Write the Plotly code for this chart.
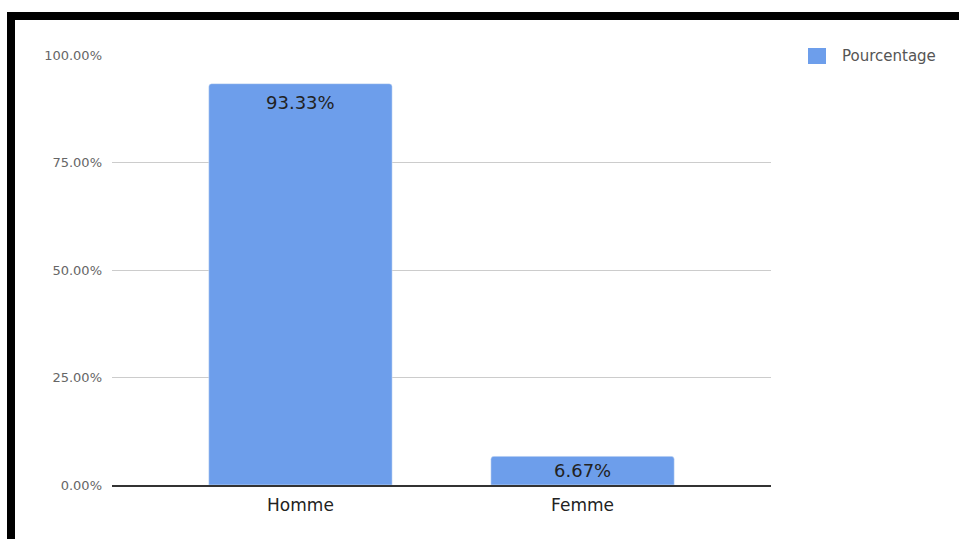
import plotly.graph_objects as go

# Répartition par sexe
categories = ["Homme", "Femme"]
pourcentages = [93.33, 6.67]
tick_values = [0, 25, 50, 75, 100]
tick_labels = ["0.00%", "25.00%", "50.00%", "75.00%", "100.00%"]
serie = "Pourcentage"

W, H = 959, 539
L, R, T, B = 112, 771, 55, 485  # plot area in pixels
Y_MAX = 100
BAR_COLOR = "#6d9eeb"
FONT = "DejaVu Sans"


def px(x):
    return (x - L) / (R - L)


def py(y):
    return (B - y) / (B - T)


fig = go.Figure()
fig.add_trace(go.Bar(
    x=categories,
    y=pourcentages,
    name=serie,
    marker=dict(color=BAR_COLOR, cornerradius=3),
    width=0.65,
    showlegend=False,
))

# value labels inside the bars: near the top, or centred for short bars
px_per_unit = (B - T) / Y_MAX
annotations = []
for cat, val in zip(categories, pourcentages):
    shift = min(19, val * px_per_unit / 2)
    annotations.append(dict(
        x=cat, y=val, xref="x", yref="y",
        text=f"{val:.2f}%", showarrow=False,
        yanchor="middle", yshift=-shift,
        font=dict(family=FONT, size=18, color="#222222"),
    ))

# legend entry
annotations.append(dict(
    x=px(840), y=py(56), xref="paper", yref="paper",
    text=serie, showarrow=False, xanchor="left", yanchor="middle",
    font=dict(family=FONT, size=15, color="#555555"),
))

fig.update_layout(
    width=W, height=H,
    margin=dict(l=L, r=W - R, t=T, b=H - B, pad=0),
    paper_bgcolor="white",
    plot_bgcolor="white",
    showlegend=False,
    annotations=annotations,
    xaxis=dict(
        range=[-0.668, 1.668],
        showgrid=False,
        showline=True, linecolor="#333333", linewidth=2,
        tickfont=dict(family=FONT, size=17, color="#222222"),
        ticks="",
        ticklabelstandoff=4,
        fixedrange=True,
    ),
    yaxis=dict(
        range=[0, Y_MAX],
        tickvals=tick_values,
        ticktext=tick_labels,
        tickfont=dict(family=FONT, size=13, color="#666666"),
        showgrid=True, gridcolor="#cccccc", gridwidth=1,
        zeroline=False,
        showline=False,
        ticks="",
        ticklabelstandoff=9,
    ),
    shapes=[
        # legend swatch
        dict(type="rect", xref="paper", yref="paper",
             x0=px(808), x1=px(826), y0=py(64), y1=py(48),
             fillcolor=BAR_COLOR, line=dict(width=0)),
        # black frame (top and left edges)
        dict(type="rect", xref="paper", yref="paper",
             x0=px(7), x1=px(959), y0=py(20), y1=py(12),
             fillcolor="black", line=dict(width=0), layer="above"),
        dict(type="rect", xref="paper", yref="paper",
             x0=px(7), x1=px(15), y0=py(539), y1=py(12),
             fillcolor="black", line=dict(width=0), layer="above"),
    ],
)

fig.write_html("out.html")
